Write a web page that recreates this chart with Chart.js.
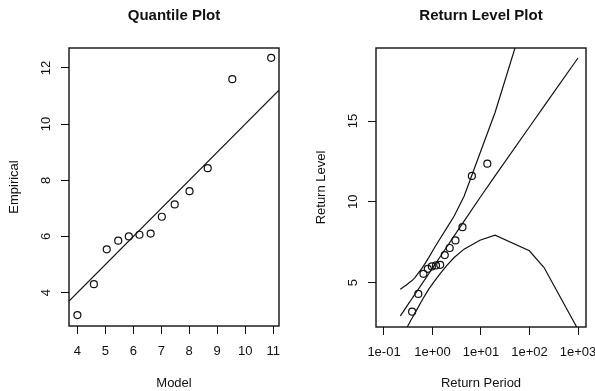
<!DOCTYPE html>
<html>
<head>
<meta charset="utf-8">
<script src="https://cdn.jsdelivr.net/npm/chart.js@4.4.0/dist/chart.umd.min.js"></script>
<style>
  html, body { margin: 0; padding: 0; background: #fff; }
  #wrap { position: relative; width: 595px; height: 391px; overflow: hidden; }
  canvas { position: absolute; top: 0; }
</style>
</head>
<body>
<div id="wrap">
  <canvas id="qq" width="297" height="391" style="left:0;width:297px;height:391px"></canvas>
  <canvas id="rl" width="298" height="391" style="left:297px;width:298px;height:391px"></canvas>
</div>
<script>
// quantile plot
const modelQuantiles = [4.0, 4.59, 5.05, 5.46, 5.84, 6.22, 6.62, 7.02, 7.48, 8.01, 8.66, 9.54, 10.93];
const empirical = [3.2, 4.3, 5.54, 5.85, 6.0, 6.06, 6.1, 6.7, 7.14, 7.61, 8.43, 11.6, 12.36];
const diagX = [3.7, 11.21];
const diagY = [3.7, 11.21];
const qqXTicks = [4, 5, 6, 7, 8, 9, 10, 11];
const qqYTicks = [4, 6, 8, 10, 12];

// return level plot
const empPeriod = [0.38, 0.51, 0.65, 0.8, 0.97, 1.18, 1.44, 1.79, 2.26, 2.97, 4.15, 6.49, 13.5];
const curvePeriod = [0.217, 0.256, 0.285, 0.311, 0.334, 0.355, 0.376, 0.396, 0.415, 0.434,
  0.621, 0.831, 1.09, 1.44, 1.96, 2.8, 4.48, 9.49, 19.5, 99.5, 199.5, 999.5];
const fitLevel = [2.94, 3.25, 3.46, 3.63, 3.77, 3.89, 4.0, 4.1, 4.19, 4.28,
  4.97, 5.53, 6.06, 6.6, 7.2, 7.89, 8.8, 10.25, 11.6, 14.63, 15.92, 18.9];
const upperLevel = [4.59, 4.74, 4.84, 4.93, 5.0, 5.06, 5.11, 5.18, 5.24, 5.31,
  5.93, 6.53, 7.14, 7.73, 8.37, 9.12, 10.34, 12.99, 15.53, 22.4, 26.0, 34.0];
const lowerLevel = [1.35, 1.8, 2.1, 2.33, 2.5, 2.65, 2.78, 2.9, 3.0, 3.11,
  3.95, 4.58, 5.08, 5.55, 6.05, 6.55, 7.07, 7.62, 7.93, 6.97, 5.93, 2.1];
const rlXTicks = [0.1, 1, 10, 100, 1000];
const rlXLabels = ["1e-01", "1e+00", "1e+01", "1e+02", "1e+03"];
const rlYTicks = [5, 10, 15];

const FONT = '"Liberation Sans", Arial, Helvetica, sans-serif';
const INK = '#111';

const pts = (xs, ys) => xs.map((x, i) => ({ x: x, y: ys[i] }));

// box, titles, axis labels and the rotated y tick labels
const frame = {
  id: 'frame',
  afterDraw(chart, args, opts) {
    const { ctx, chartArea: a } = chart;
    const ys = chart.scales.y;
    ctx.save();
    ctx.strokeStyle = INK;
    ctx.lineWidth = 1.4;
    ctx.strokeRect(a.left, a.top, a.right - a.left, a.bottom - a.top);
    ctx.fillStyle = INK;
    ctx.textAlign = 'center';
    ctx.textBaseline = 'middle';
    const cx = (a.left + a.right) / 2;
    ctx.font = 'bold 15px ' + FONT;
    ctx.fillText(opts.title, cx, 16);
    ctx.font = '13px ' + FONT;
    ctx.fillText(opts.xLabel, cx, 383);
    ys.ticks.forEach(t => {
      ctx.save();
      ctx.translate(a.left - 23, ys.getPixelForValue(t.value));
      ctx.rotate(-Math.PI / 2);
      ctx.fillText(String(t.value), 0, 0);
      ctx.restore();
    });
    ctx.translate(a.left - 55, (a.top + a.bottom) / 2);
    ctx.rotate(-Math.PI / 2);
    ctx.fillText(opts.yLabel, 0, 0);
    ctx.restore();
  }
};

function axis(extra, size, tickVals) {
  return Object.assign({
    grid: { display: true, drawOnChartArea: false, drawTicks: true, tickLength: 8, color: INK, lineWidth: 1 },
    border: { display: false },
    afterBuildTicks: s => { s.ticks = tickVals.map(v => ({ value: v })); },
    afterFit: s => {
      if (s.isHorizontal()) s.height = size; else s.width = size;
      s.paddingLeft = 0; s.paddingRight = 0; s.paddingTop = 0; s.paddingBottom = 0;
    }
  }, extra);
}

const xTickFont = { font: { family: FONT, size: 13 }, color: INK, padding: 10, autoSkip: false, maxRotation: 0 };

const pointStyle = {
  showLine: false, pointRadius: 3.5, pointBorderWidth: 1.2,
  pointBorderColor: INK, pointBackgroundColor: 'rgba(0,0,0,0)'
};
const lineStyle = {
  showLine: true, pointRadius: 0, borderColor: INK, borderWidth: 1.2, tension: 0, fill: false
};

new Chart(document.getElementById('qq'), {
  type: 'scatter',
  data: {
    datasets: [
      Object.assign({ data: pts(modelQuantiles, empirical) }, pointStyle),
      Object.assign({ data: pts(diagX, diagY) }, lineStyle)
    ]
  },
  options: {
    responsive: false,
    animation: false,
    events: [],
    layout: { padding: { left: 0, right: 18, top: 48, bottom: 0 } },
    plugins: {
      legend: { display: false },
      tooltip: { enabled: false },
      frame: { title: 'Quantile Plot', xLabel: 'Model', yLabel: 'Empirical' }
    },
    scales: {
      x: axis({ type: 'linear', min: 3.7, max: 11.21, ticks: xTickFont }, 65, qqXTicks),
      y: axis({ type: 'linear', min: 2.81, max: 12.71, ticks: { display: false } }, 69, qqYTicks)
    }
  },
  plugins: [frame]
});

new Chart(document.getElementById('rl'), {
  type: 'scatter',
  data: {
    datasets: [
      Object.assign({ data: pts(empPeriod, empirical) }, pointStyle),
      Object.assign({ data: pts(curvePeriod, fitLevel) }, lineStyle),
      Object.assign({ data: pts(curvePeriod, upperLevel) }, lineStyle),
      Object.assign({ data: pts(curvePeriod, lowerLevel) }, lineStyle)
    ]
  },
  options: {
    responsive: false,
    animation: false,
    events: [],
    layout: { padding: { left: 0, right: 9, top: 48, bottom: 0 } },
    plugins: {
      legend: { display: false },
      tooltip: { enabled: false },
      frame: { title: 'Return Level Plot', xLabel: 'Return Period', yLabel: 'Return Level' }
    },
    scales: {
      x: axis({
        type: 'logarithmic', min: 0.0684, max: 1462,
        ticks: Object.assign({ callback: (v, i) => rlXLabels[i] }, xTickFont)
      }, 64, rlXTicks),
      y: axis({ type: 'linear', min: 2.25, max: 19.52, ticks: { display: false } }, 79, rlYTicks)
    }
  },
  plugins: [frame]
});
</script>
</body>
</html>
